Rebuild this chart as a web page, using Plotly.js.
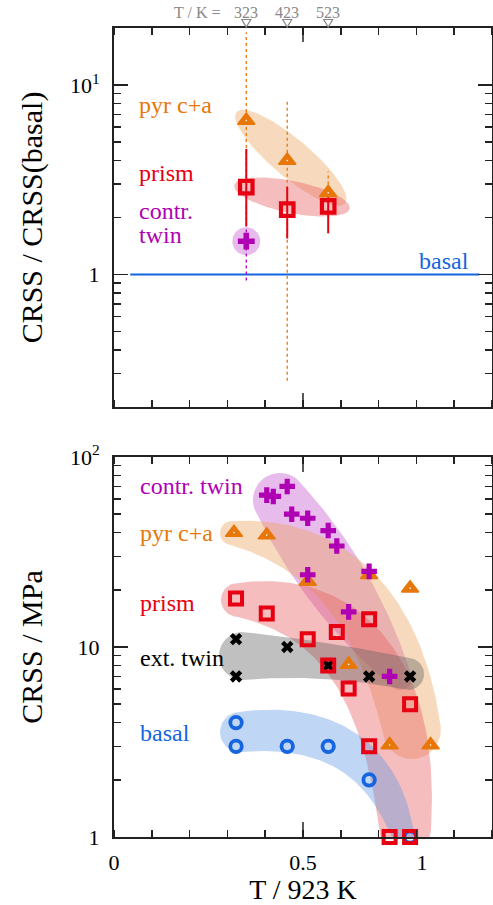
<!DOCTYPE html>
<html><head><meta charset="utf-8">
<script src="https://cdn.plot.ly/plotly-3.0.1.min.js"></script>
<style>body{margin:0;background:#fff}#chart{width:493px;height:905px}</style>
</head><body><div id="chart"></div>
<script>
// ---------------- DATA ----------------
const TM = 923; // K, normalisation temperature
// top panel: CRSS ratio to basal CRSS at 323, 423, 523 K
const topT = [323, 423, 523];
const pyrRatio = [6.5, 4.0, 2.7];
const pyrRatioHi = [19, 8.2, 3.5];
const pyrRatioLo = [2.6, 0.275, 2.4];
const prismRatio = [2.89, 2.2, 2.29];
const prismRatioHi = [4.6, 2.9, 2.75];
const prismRatioLo = [1.8, 1.55, 1.65];
const twinT = [323];
const twinRatio = [1.5];
const twinRatioHi = [2.4];
const twinRatioLo = [0.93];
const basalRefX = [0.043, 0.966];
const basalRef = [1, 1];

// bottom panel: CRSS / MPa
const contrT = [373, 389, 423, 434, 473, 523, 544, 473, 623, 573, 673];
const contrCRSS = [63, 62, 70, 50, 47.6, 41, 34, 24, 25, 15.3, 7];
const pyrT = [293, 373, 473, 623, 723, 573, 673, 773];
const pyrCRSS = [40, 38.8, 22.1, 24, 20.4, 8.1, 3.05, 3.05];
const prismT = [298, 373, 473, 544, 623, 523, 573, 723, 623, 673, 723];
const prismCRSS = [18, 15, 11, 12, 14, 8, 6.05, 5, 3, 1, 1];
const extT = [298, 423, 523, 298, 623, 723];
const extCRSS = [11, 10, 8, 7, 7, 7];
const basalT = [298, 298, 423, 523, 623, 723];
const basalCRSS = [4, 3, 3, 3, 2, 1];

const xTickVals = [0, 0.5, 0.815];
const xTickText = ['0', '0.5', '1'];
const yTopTickVals = [1, 10];
const yTopTickText = ['1', '10<sup>1</sup>'];
const yBotTickVals = [1, 10, 100];
const yBotTickText = ['1', '10', '10<sup>2</sup>'];
const topMarkT = [323, 423, 523];
const topMarkText = ['323', '423', '523'];

// ---------------- STYLE ----------------
const C = {orange:'#e8770a', red:'#e60012', purple:'#b000b4', blue:'#1565e0', black:'#000', gray:'#888'};
const FILL = {
  orange:'rgba(235,168,97,0.42)', red:'rgba(230,97,97,0.42)', purple:'rgba(198,93,208,0.42)',
  gray:'rgba(97,97,97,0.4)', blue:'rgba(97,152,230,0.4)'
};
const SERIF = '"Liberation Serif", "Times New Roman", serif';
const W = 493, H = 905, ML = 114, MR = 1, MT = 28, MB = 68;
const PW = W - ML - MR, PH = H - MT - MB;
const topPx = [28, 407], botPx = [457, 837];
const SX = PW; // px per x unit
const SYb = (botPx[1] - botPx[0]) / 2;
const SYt = (topPx[1] - topPx[0]) / 2;

// highlight regions (decorations): bezier mid-line in data units + half-widths in px
const blobsTop = [
  {fill:FILL.orange, p:[[0.3238,7.21],[0.4677,4.135],[0.6116,2.372]], wm:19, ellipse:true},
  {fill:FILL.red, p:[[0.318,2.958],[0.4709,2.565],[0.6238,2.224]], wm:16, ellipse:true},
  {fill:FILL.purple, circle:[0.35,1.5], r:14}
];
const blobsBot = [
  {fill:FILL.purple, p:[[0.439,59.4],[0.598,20.2],[0.757,6.87]], w:[27,31,12]},
  {fill:FILL.orange, p:[[0.312,39.8],[0.698,33.0],[0.788,3.66]], w:[12,29,29]},
  {fill:FILL.red, p:[[0.328,17.7],[0.7526,16.4],[0.770,1.115]], w:[17,34,26]},
  {fill:FILL.gray, p:[[0.341,8.97],[0.558,8.86],[0.778,7.21]], w:[24,18,16]},
  {fill:FILL.blue, p:[[0.3333,3.57],[0.6746,4.23],[0.762,1.063]], w:[20,20,12]}
];

function blobOutline(b, sy) {
  const toP = ([x, y]) => [x * SX, -Math.log10(y) * sy];
  const toD = ([X, Y]) => [X / SX, Math.pow(10, -Y / sy)];
  let pts = [];
  if (b.circle) {
    const c = toP(b.circle);
    for (let i = 0; i <= 72; i++) { const a = i / 72 * 2 * Math.PI; pts.push([c[0] + b.r * Math.cos(a), c[1] + b.r * Math.sin(a)]); }
  } else {
    const P = b.p.map(toP), N = 80;
    const B = t => [0, 1].map(k => (1-t)*(1-t)*P[0][k] + 2*t*(1-t)*P[1][k] + t*t*P[2][k]);
    const D = t => [0, 1].map(k => 2*(1-t)*(P[1][k]-P[0][k]) + 2*t*(P[2][k]-P[1][k]));
    const wAt = t => b.ellipse ? b.wm * Math.sqrt(Math.max(0, 1 - (2*t-1)*(2*t-1)))
      : b.w[0]*2*(t-0.5)*(t-1) + b.w[1]*(-4*t*(t-1)) + b.w[2]*2*t*(t-0.5);
    const left = [], right = [], nrm = [], dir = [];
    for (let i = 0; i <= N; i++) {
      const t = i / N, c = B(t), d = D(t), L = Math.hypot(d[0], d[1]);
      const u = [d[0]/L, d[1]/L], n = [-u[1], u[0]], w = wAt(t);
      left.push([c[0] + n[0]*w, c[1] + n[1]*w]); right.push([c[0] - n[0]*w, c[1] - n[1]*w]);
      nrm.push(n); dir.push(u);
    }
    pts = pts.concat(left);
    if (!b.ellipse) {
      const c = B(1), n = nrm[N], u = dir[N], w = b.w[2];
      for (let i = 1; i < 30; i++) { const a = i/30*Math.PI; pts.push([c[0] + w*(Math.cos(a)*n[0] + Math.sin(a)*u[0]), c[1] + w*(Math.cos(a)*n[1] + Math.sin(a)*u[1])]); }
    }
    pts = pts.concat(right.reverse());
    if (!b.ellipse) {
      const c = B(0), n = nrm[0], u = dir[0], w = b.w[0];
      for (let i = 1; i < 30; i++) { const a = i/30*Math.PI; pts.push([c[0] - w*(Math.cos(a)*n[0] + Math.sin(a)*u[0]), c[1] - w*(Math.cos(a)*n[1] + Math.sin(a)*u[1])]); }
    }
    pts.push(pts[0]);
  }
  const d = pts.map(toD);
  return {x: d.map(p => p[0]), y: d.map(p => p[1])};
}

const traces = [];
function addBlobs(list, sy, xa, ya) {
  list.forEach(b => {
    const o = blobOutline(b, sy);
    traces.push({type:'scatter', mode:'lines', x:o.x, y:o.y, fill:'toself', fillcolor:b.fill,
      line:{width:0, color:'rgba(0,0,0,0)'}, xaxis:xa, yaxis:ya, hoverinfo:'skip'});
  });
}
addBlobs(blobsTop, SYt, 'x2', 'y2');
addBlobs(blobsBot, SYb, 'x', 'y');

const toX = T => T.map(t => t / TM);
function bars(T, lo, hi) {
  const x = [], y = [];
  T.forEach((t, i) => { x.push(t/TM, t/TM, null); y.push(lo[i], hi[i], null); });
  return {x, y};
}
// top panel lines
traces.push({type:'scatter', mode:'lines', x:basalRefX, y:basalRef, line:{color:C.blue, width:2}, xaxis:'x2', yaxis:'y2', hoverinfo:'skip'});
let e = bars(topT, pyrRatioLo, pyrRatioHi);
traces.push({type:'scatter', mode:'lines', x:e.x, y:e.y, line:{color:C.orange, width:1.3, dash:'dot'}, xaxis:'x2', yaxis:'y2', hoverinfo:'skip'});
e = bars(twinT, twinRatioLo, twinRatioHi);
traces.push({type:'scatter', mode:'lines', x:e.x, y:e.y, line:{color:C.purple, width:1.3, dash:'dot'}, xaxis:'x2', yaxis:'y2', hoverinfo:'skip'});
e = bars(topT, prismRatioLo, prismRatioHi);
traces.push({type:'scatter', mode:'lines', x:e.x, y:e.y, line:{color:C.red, width:2}, xaxis:'x2', yaxis:'y2', hoverinfo:'skip'});

const openMk = (sym, color, size, lw) => ({symbol:sym, size:size, color:color, line:{color:color, width:lw}});
const fillMk = (sym, color, size, lw) => ({symbol:sym, size:size, color:color, line:{color:color, width:lw || 0}});
function pts(T, v, m, xa, ya) {
  traces.push({type:'scatter', mode:'markers', x:toX(T), y:v, marker:m, xaxis:xa, yaxis:ya, cliponaxis:false});
}
pts(topT, pyrRatio, fillMk('triangle-up', C.orange, 15, 1.5), 'x2', 'y2');
pts(topT, pyrRatio, fillMk('circle', '#fff', 1.6), 'x2', 'y2');
pts(topT, prismRatio, openMk('square-open', C.red, 12.5, 4.2), 'x2', 'y2');
pts(twinT, twinRatio, fillMk('cross', C.purple, 14), 'x2', 'y2');

pts(basalT, basalCRSS, openMk('circle-open', C.blue, 11.5, 3.8), 'x', 'y');
pts(extT, extCRSS, fillMk('x', C.black, 11), 'x', 'y');
pts(prismT, prismCRSS, openMk('square-open', C.red, 12, 4), 'x', 'y');
pts(pyrT, pyrCRSS, fillMk('triangle-up', C.orange, 15, 1.5), 'x', 'y');
pts(pyrT, pyrCRSS, fillMk('circle', '#fff', 1.6), 'x', 'y');
pts(contrT, contrCRSS, fillMk('cross', C.purple, 13), 'x', 'y');

// ---------------- LAYOUT ----------------
const pxX = px => (px - ML) / PW;
const pxY = py => (H - MB - py) / PH;
const dom = r => [pxY(r[1]), pxY(r[0])];
const frame = {showline:true, linecolor:'#222', linewidth:2, mirror:'ticks', showgrid:false, zeroline:false};
const xBase = Object.assign({}, frame, {range:[0, 1], tickvals:xTickVals, ticktext:xTickText, ticks:'',
  minor:{tick0:0, dtick:0.1, ticks:'inside', ticklen:7, tickwidth:1.5, tickcolor:'#222', showgrid:false},
  tickfont:{family:SERIF, size:22, color:'#000'}, ticklabelstandoff:5});
const minorY = v => ({tickmode:'array', tickvals:v, ticks:'inside', ticklen:7, tickwidth:1.5, tickcolor:'#222', showgrid:false});
const minorTop = [0.2,0.3,0.4,0.5,0.6,0.7,0.8,0.9,2,3,4,5,6,7,8,9];
const minorBot = [2,3,4,5,6,7,8,9,20,30,40,50,60,70,80,90];

const ann = [];
const lab = (text, px, py, color, anchor) => ann.push({text, x:pxX(px), y:pxY(py), xref:'paper', yref:'paper',
  xanchor:anchor || 'left', yanchor:'middle', showarrow:false, font:{family:SERIF, size:24, color}});
lab('pyr c+a', 137, 105, C.orange);
lab('prism', 137, 173, C.red);
lab('contr.', 137, 211, C.purple);
lab('twin', 137, 235, C.purple);
lab('basal', 471, 261, C.blue, 'right');
lab('contr. twin', 138, 486, C.purple);
lab('pyr c+a', 138, 533, C.orange);
lab('prism', 138, 603, C.red);
lab('ext. twin', 138, 658, C.black);
lab('basal', 138, 733, C.blue);
ann.push({text:'T / K =', x:pxX(197), y:pxY(13), xref:'paper', yref:'paper', showarrow:false, xanchor:'center', yanchor:'middle', font:{family:SERIF, size:16, color:C.gray}});
topMarkT.forEach((t, i) => ann.push({text:topMarkText[i], x:t/TM, y:pxY(13), xref:'x', yref:'paper', showarrow:false, xanchor:'center', yanchor:'middle', font:{family:SERIF, size:16, color:C.gray}}));

const shapes = [];
topMarkT.forEach(t => {
  const x = t/TM, dx = 4.5/PW, y0 = pxY(19.5), y1 = pxY(27);
  shapes.push({type:'path', xref:'x', yref:'paper', path:`M${x-dx},${y0} L${x+dx},${y0} L${x},${y1} Z`, line:{color:C.gray, width:1.2}, fillcolor:'#fff'});
});
[['y domain', 15/380], ['y2 domain', 14/379]].forEach(([ref, h]) => {
  shapes.push({type:'line', xref:'x', yref:ref, x0:0.5, x1:0.5, y0:0, y1:h, line:{color:'#222', width:1.5}});
  shapes.push({type:'line', xref:'x', yref:ref, x0:0.5, x1:0.5, y0:1-h, y1:1, line:{color:'#222', width:1.5}});
});

const layout = {
  width:W, height:H, margin:{l:ML, r:MR, t:MT, b:MB}, showlegend:false,
  paper_bgcolor:'#fff', plot_bgcolor:'rgba(0,0,0,0)', font:{family:SERIF, size:22, color:'#000'},
  xaxis:Object.assign({}, xBase, {anchor:'y', domain:[0,1], title:{text:'T / 923 K', font:{family:SERIF, size:28}, standoff:12}}),
  xaxis2:Object.assign({}, xBase, {anchor:'y2', domain:[0,1], matches:'x', showticklabels:false}),
  yaxis:Object.assign({}, frame, {domain:dom(botPx), type:'log', range:[0, 2], tickvals:yBotTickVals, ticktext:yBotTickText,
    ticks:'inside', ticklen:14, tickwidth:1.5, tickcolor:'#222', minor:minorY(minorBot), ticklabelstandoff:8,
    tickfont:{family:SERIF, size:22, color:'#000'}, title:{text:'CRSS / MPa', font:{family:SERIF, size:30}, standoff:18}}),
  yaxis2:Object.assign({}, frame, {domain:dom(topPx), type:'log', range:[Math.log10(0.2), Math.log10(20)], tickvals:yTopTickVals, ticktext:yTopTickText,
    ticks:'inside', ticklen:14, tickwidth:1.5, tickcolor:'#222', minor:minorY(minorTop), ticklabelstandoff:8,
    tickfont:{family:SERIF, size:22, color:'#000'}, title:{text:'CRSS / CRSS(basal)', font:{family:SERIF, size:30}, standoff:18}}),
  annotations:ann, shapes:shapes
};
Plotly.newPlot('chart', traces, layout, {displayModeBar:false, staticPlot:true});
</script></body></html>
